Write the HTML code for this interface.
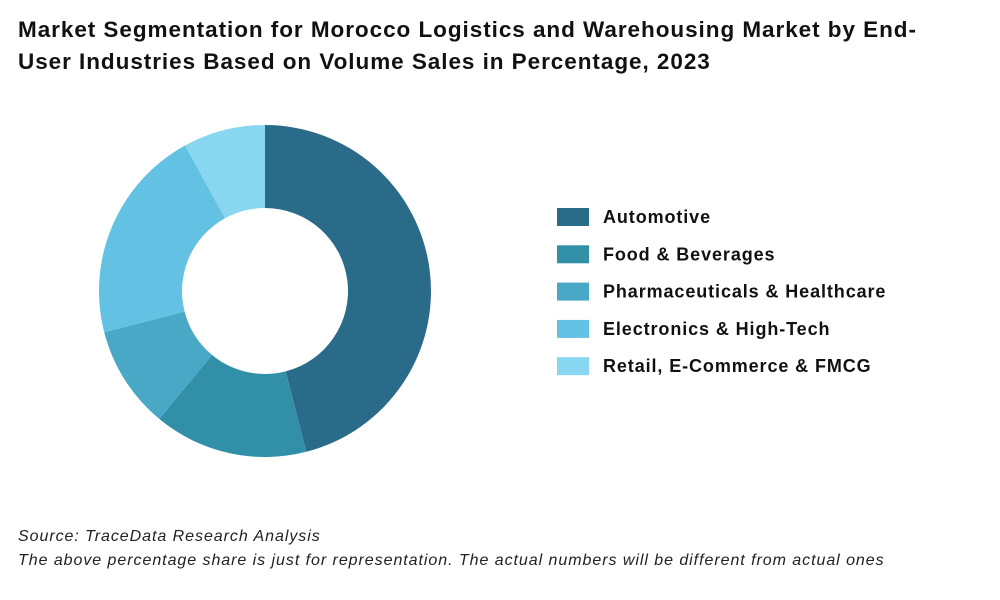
<!DOCTYPE html>
<html><head><meta charset="utf-8"><style>
body{margin:0;width:1000px;height:600px;background:#fff;font-family:"Liberation Sans",sans-serif;overflow:hidden;position:relative}
#title{position:absolute;left:18px;top:14px;width:980px;font-size:22.5px;font-weight:bold;line-height:32px;color:#111;letter-spacing:0.95px;white-space:nowrap}
.foot{position:absolute;left:18px;font-size:16px;font-style:italic;color:#222;letter-spacing:0.95px;white-space:nowrap}
</style></head><body>
<div id="title">Market Segmentation for Morocco Logistics and Warehousing Market by End-<br>User Industries Based on Volume Sales in Percentage, 2023</div>
<svg id="chart" width="1000" height="600" style="position:absolute;left:0;top:0"></svg>
<div class="foot" style="top:528px">Source: TraceData Research Analysis</div>
<div class="foot" style="top:552px">The above percentage share is just for representation. The actual numbers will be different from actual ones</div>
<script>
const categories=["Automotive","Food & Beverages","Pharmaceuticals & Healthcare","Electronics & High-Tech","Retail, E-Commerce & FMCG"];
const values=[46,15,10,21,8];
const colors=["#2a6b8a","#318fa8","#4aa8c7","#63c1e3","#88d6f0"];
const svg=document.getElementById('chart');
const NS="http://www.w3.org/2000/svg";
const cx=265,cy=291,R=166,r=83;
const total=values.reduce((a,b)=>a+b,0);
function pt(rad,a){return [cx+rad*Math.sin(a),cy-rad*Math.cos(a)];}
let acc=0;
values.forEach((v,i)=>{
  const a0=acc/total*2*Math.PI;acc+=v;const a1=acc/total*2*Math.PI;
  const lg=(a1-a0)>Math.PI?1:0;
  const p0=pt(R,a0),p1=pt(R,a1),q1=pt(r,a1),q0=pt(r,a0);
  const p=document.createElementNS(NS,'path');
  p.setAttribute('d',`M${p0} A${R},${R} 0 ${lg} 1 ${p1} L${q1} A${r},${r} 0 ${lg} 0 ${q0}Z`);
  p.setAttribute('fill',colors[i]);
  
  
  svg.appendChild(p);
  const y=217+i*37.3;
  const s=document.createElementNS(NS,'rect');
  s.setAttribute('x',557);s.setAttribute('y',y-9);s.setAttribute('width',32);s.setAttribute('height',18);s.setAttribute('fill',colors[i]);
  
  
  svg.appendChild(s);
  const t=document.createElementNS(NS,'text');
  t.setAttribute('x',603);t.setAttribute('y',y+6);t.setAttribute('font-size','18');t.setAttribute('font-weight','bold');t.setAttribute('fill','#111');
  t.setAttribute('letter-spacing','0.9');
  t.setAttribute('font-family','Liberation Sans, sans-serif');
  t.textContent=categories[i];
  
  
  svg.appendChild(t);
});
</script>
</body></html>
